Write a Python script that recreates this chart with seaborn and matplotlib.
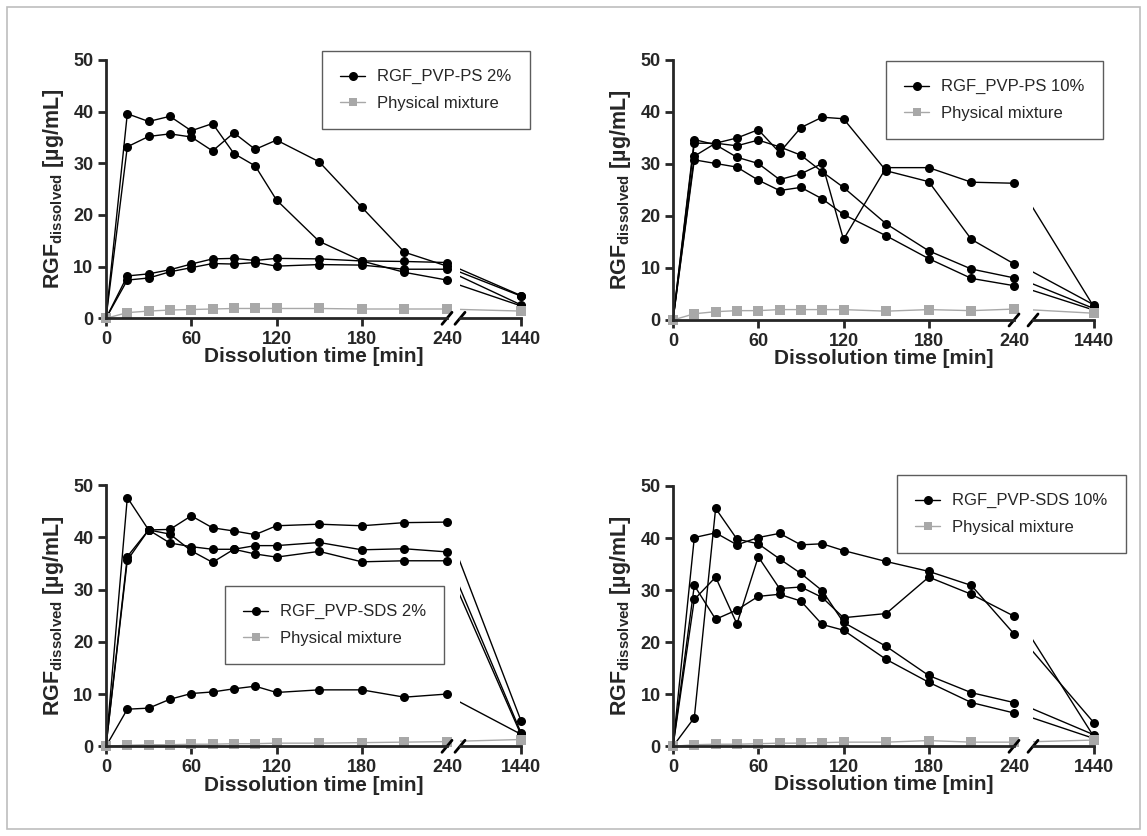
import pandas as pd
import seaborn as sns
import matplotlib.pyplot as plt
from matplotlib.lines import Line2D
from matplotlib.patches import Rectangle

# sampling times [min]
times = [0, 15, 30, 45, 60, 75, 90, 105, 120, 150, 180, 210, 240, 1440]

# RGF_PVP-PS 2%
ps2_reps = [
    [0, 39.6, 38.1, 39.1, 36.3, 37.7, 31.9, 29.5, 22.9, 14.9, 11.1, 8.9, 7.4, 2.4],
    [0, 33.2, 35.2, 35.7, 35.1, 32.4, 35.9, 32.7, 34.5, 30.3, 21.5, 12.8, 10.1, 4.3],
    [0, 8.2, 8.6, 9.4, 10.5, 11.5, 11.6, 11.2, 11.6, 11.5, 11.1, 11.0, 10.8, 4.4],
    [0, 7.4, 7.8, 9.0, 9.8, 10.6, 10.5, 10.8, 10.1, 10.4, 10.3, 9.5, 9.5, 2.6],
]
ps2_pm = [0, 1.1, 1.4, 1.6, 1.7, 1.8, 1.9, 1.9, 1.9, 1.9, 1.8, 1.8, 1.8, 1.4]

# RGF_PVP-PS 10%
ps10_reps = [
    [0, 31.5, 34.0, 35.0, 36.6, 32.2, 37.0, 39.0, 38.7, 28.7, 26.6, 15.5, 10.8, 2.9],
    [0, 34.7, 33.7, 31.3, 30.1, 27.0, 28.1, 30.1, 15.5, 29.3, 29.3, 26.5, 26.3, 2.5],
    [0, 34.0, 34.0, 33.5, 34.6, 33.3, 31.7, 28.5, 25.5, 18.5, 13.3, 9.8, 8.1, 2.2],
    [0, 30.8, 30.1, 29.4, 26.9, 24.9, 25.5, 23.3, 20.3, 16.2, 11.8, 8.0, 6.6, 1.9],
]
ps10_pm = [0, 1.2, 1.6, 1.8, 1.8, 2.0, 2.0, 2.0, 2.0, 1.7, 2.0, 1.8, 2.1, 1.3]

# RGF_PVP-SDS 2%
sds2_reps = [
    [0, 47.6, 41.4, 38.9, 38.2, 37.7, 37.7, 36.8, 36.2, 37.3, 35.3, 35.5, 35.5, 2.2],
    [0, 36.3, 41.4, 41.5, 44.1, 41.8, 41.2, 40.5, 42.2, 42.5, 42.2, 42.8, 42.9, 4.9],
    [0, 35.6, 41.4, 40.6, 37.4, 35.2, 37.7, 38.4, 38.4, 39.0, 37.6, 37.8, 37.2, 2.6],
    [0, 7.1, 7.3, 9.0, 10.1, 10.4, 11.0, 11.5, 10.3, 10.8, 10.8, 9.4, 10.0, 2.3],
]
sds2_pm = [0, 0.2, 0.3, 0.3, 0.4, 0.4, 0.5, 0.5, 0.6, 0.6, 0.7, 0.8, 0.9, 1.3]

# RGF_PVP-SDS 10%
sds10_reps = [
    [0, 40.1, 41.0, 38.7, 40.1, 40.9, 38.7, 38.9, 37.6, 35.5, 33.6, 30.9, 21.6, 4.5],
    [0, 30.9, 24.4, 26.2, 28.8, 29.2, 27.9, 23.4, 22.3, 16.7, 12.3, 8.4, 6.4, 1.5],
    [0, 5.5, 45.7, 39.8, 38.9, 36.0, 33.2, 29.9, 23.8, 19.2, 13.6, 10.3, 8.4, 2.2],
    [0, 28.2, 32.5, 23.5, 36.4, 30.3, 30.6, 28.6, 24.7, 25.5, 32.5, 29.2, 25.0, 1.8],
]
sds10_pm = [0, 0.3, 0.4, 0.4, 0.5, 0.6, 0.6, 0.7, 0.8, 0.8, 1.1, 0.8, 0.8, 1.2]

panel_labels = ["RGF_PVP-PS 2%", "RGF_PVP-PS 10%", "RGF_PVP-SDS 2%", "RGF_PVP-SDS 10%"]

GRAY = "#a8a8a8"
W, H = 1147, 836

sns.set_style("ticks")
plt.rcParams["font.family"] = ["Liberation Sans", "DejaVu Sans"]
plt.rcParams["mathtext.fontset"] = "custom"
plt.rcParams["mathtext.rm"] = "Liberation Sans"
plt.rcParams["mathtext.bf"] = "Liberation Sans:bold"


def make_frame(reps, pm):
    rows = []
    for i, r in enumerate(reps):
        for t, v in zip(times, r):
            rows.append({"time": t, "value": v, "rep": i, "group": "rgf"})
    for t, v in zip(times, pm):
        rows.append({"time": t, "value": v, "rep": 99, "group": "pm"})
    return pd.DataFrame(rows)


def px_axes(fig, x0, x1, ytop, ybot):
    return fig.add_axes([x0 / W, 1 - ybot / H, (x1 - x0) / W, (ybot - ytop) / H])


def draw(ax, d):
    sns.lineplot(data=d, x="time", y="value", hue="group", style="group",
                 units="rep", estimator=None, sort=False,
                 palette={"rgf": "black", "pm": GRAY},
                 markers={"rgf": "o", "pm": "s"}, dashes=False,
                 markersize=6.5, markeredgewidth=0, linewidth=1.0,
                 legend=False, ax=ax)


def panel(fig, x0, ytop, ybot, x2end, reps, pm, label, leg_xy):
    df = make_frame(reps, pm)
    x1 = x0 + 341
    ax1 = px_axes(fig, x0, x1, ytop, ybot)
    # second segment: 480..1440 plus room for the last markers
    L, R = 480, 1530
    w2 = 61 * (R - L) / (1440 - L)
    seg2_left = x2end - 61
    ax2 = px_axes(fig, seg2_left, seg2_left + w2, ytop, ybot)

    draw(ax1, df[df.time <= 240])
    for ln in ax1.lines:
        ln.set_clip_on(False)
    draw(ax2, df[df.time >= 240])

    ax1.set_xlim(0, 240)
    ax1.set_ylim(0, 50)
    ax1.set_xticks([0, 60, 120, 180, 240])
    ax1.set_yticks([0, 10, 20, 30, 40, 50])
    ax1.xaxis.get_major_ticks()[-1].tick1line.set_visible(False)
    ax2.set_xlim(L, R)
    ax2.set_ylim(0, 50)
    ax2.set_xticks([1440])
    ax2.set_yticks([])

    sns.despine(ax=ax1)
    sns.despine(ax=ax2, left=True)
    ax2.spines["bottom"].set_bounds(L, 1440)
    for ax in (ax1, ax2):
        for s in ax.spines.values():
            s.set_linewidth(2)
        ax.tick_params(direction="out", length=6, width=2, labelsize=13, pad=3)
        for t in ax.get_xticklabels() + ax.get_yticklabels():
            t.set_fontweight("bold")
        ax.set_xlabel("")
        ax.set_ylabel("")

    # axis break marks
    dx1, dy1 = 5 / 341, 6 / (ybot - ytop)
    ax1.plot([1 - dx1, 1 + dx1], [-dy1, dy1], transform=ax1.transAxes,
             color="black", lw=2, clip_on=False)
    dx2 = 5 / w2
    ax2.plot([-dx2, dx2], [-dy1, dy1], transform=ax2.transAxes,
             color="black", lw=2, clip_on=False)

    ax1.set_ylabel(r"$\mathbf{RGF_{dissolved}}$ [µg/mL]", fontsize=15.5, fontweight="bold",
                   labelpad=5)
    ax1.set_xlabel("Dissolution time [min]", fontsize=15, fontweight="bold")
    xc = ((x0 + x2end) / 2 - x0) / 341
    ax1.xaxis.set_label_coords(xc, -0.112)

    handles = [
        Line2D([], [], color="black", marker="o", markersize=6.5, markeredgewidth=0, lw=1),
        Line2D([], [], color=GRAY, marker="s", markersize=6, markeredgewidth=0, lw=1),
    ]
    leg = fig.legend(handles, [label, "Physical mixture"], loc="upper left",
                     bbox_to_anchor=(leg_xy[0] / W, 1 - leg_xy[1] / H),
                     bbox_transform=fig.transFigure, fontsize=12,
                     frameon=True, fancybox=False, edgecolor="#333333",
                     borderpad=1.1, handlelength=1.5, handletextpad=0.7,
                     labelspacing=0.7, borderaxespad=0)
    leg.get_frame().set_linewidth(1.0)


fig = plt.figure(figsize=(W / 100, H / 100), dpi=100)
fig.patches.append(Rectangle((7 / W, 7 / H), 1 - 14 / W, 1 - 14 / H,
                             transform=fig.transFigure, fill=False,
                             edgecolor="#bdbdbd", lw=1.2))

panel(fig, 106, 60, 318.3, 521, ps2_reps, ps2_pm, panel_labels[0], (322, 51))
panel(fig, 673, 60, 320, 1094, ps10_reps, ps10_pm, panel_labels[1], (886, 61))
panel(fig, 106, 485, 746.3, 521, sds2_reps, sds2_pm, panel_labels[2], (225, 586))
panel(fig, 673, 486, 746.3, 1094, sds10_reps, sds10_pm, panel_labels[3], (897, 475))

fig.savefig("out.png", dpi=100)
